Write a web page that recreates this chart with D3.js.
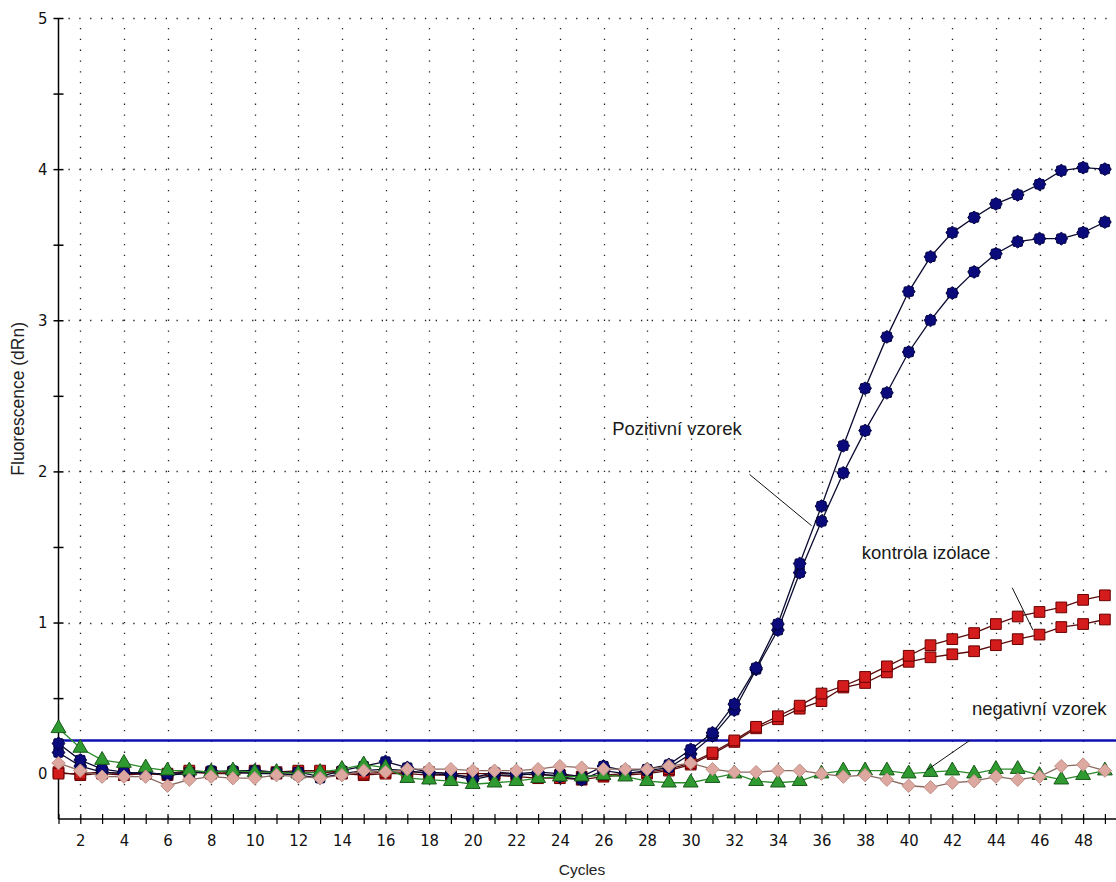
<!DOCTYPE html>
<html>
<head>
<meta charset="utf-8">
<script src="https://cdn.jsdelivr.net/npm/d3@7"></script>
<style>
  html, body { margin: 0; padding: 0; background: #fff; }
  svg { display: block; }
  .tick text { font-family: "Liberation Sans Narrow", "DejaVu Sans Condensed", Arial, sans-serif; font-size: 16.5px; fill: #111; }
</style>
</head>
<body>
<svg id="chart" width="1116" height="882"></svg>
<script>
// Amplification plot: fluorescence (dRn) per PCR cycle
const cycles = d3.range(1, 50);

const positiveA = [0.20,0.09,0.03,0.01,0.00,0.00,0.01,0.01,0.02,0.02,0.01,0.01,-0.02,0.02,0.05,0.08,0.04,0.01,0.00,-0.03,0.01,0.00,0.01,0.00,-0.02,0.05,0.02,0.03,0.06,0.16,0.27,0.46,0.70,0.99,1.39,1.77,2.17,2.55,2.89,3.19,3.42,3.58,3.68,3.77,3.83,3.90,3.99,4.01,4.00];
const positiveB = [0.14,0.05,0.01,0.00,0.01,-0.01,0.00,0.02,0.01,0.00,0.00,-0.01,-0.03,0.00,0.02,0.03,0.02,0.00,-0.01,-0.04,-0.01,-0.01,0.00,-0.02,-0.04,0.02,0.00,0.02,0.04,0.13,0.25,0.42,0.69,0.95,1.33,1.67,1.99,2.27,2.52,2.79,3.00,3.18,3.32,3.44,3.52,3.54,3.54,3.58,3.65];
const controlA = [0.00,0.00,0.01,0.00,0.00,0.00,0.02,0.01,0.01,0.02,0.01,0.02,0.02,0.01,0.00,0.01,0.01,0.01,0.00,0.00,0.00,0.00,-0.01,-0.01,-0.02,-0.01,0.00,0.01,0.03,0.07,0.14,0.22,0.31,0.38,0.45,0.53,0.58,0.64,0.71,0.78,0.85,0.89,0.93,0.99,1.04,1.07,1.10,1.15,1.18];
const controlB = [0.01,-0.01,0.00,-0.01,0.00,-0.01,0.01,0.00,0.00,0.01,0.00,0.01,0.01,0.00,-0.01,0.00,0.00,-0.01,-0.01,-0.02,-0.01,-0.02,-0.03,-0.03,-0.04,-0.02,-0.01,0.00,0.02,0.06,0.13,0.21,0.30,0.36,0.43,0.48,0.57,0.60,0.67,0.74,0.77,0.79,0.81,0.85,0.89,0.92,0.97,0.99,1.02];
const negativeGreen = [0.30,0.17,0.09,0.07,0.04,0.02,0.02,0.01,0.02,0.01,0.01,0.00,0.01,0.03,0.06,0.04,-0.03,-0.04,-0.05,-0.07,-0.06,-0.05,-0.03,-0.02,-0.02,-0.01,-0.02,-0.05,-0.06,-0.06,-0.03,0.00,-0.05,-0.06,-0.05,0.00,0.02,0.02,0.02,0.00,0.01,0.02,0.00,0.03,0.03,-0.01,-0.04,-0.01,0.02];
const negativePink = [0.07,0.02,-0.02,-0.02,-0.02,-0.08,-0.04,-0.02,-0.03,-0.03,-0.01,-0.02,-0.03,-0.01,0.02,0.01,0.03,0.03,0.03,0.02,0.02,0.02,0.03,0.05,0.04,0.03,0.03,0.03,0.05,0.07,0.03,0.01,0.01,0.02,0.02,0.00,-0.02,-0.01,-0.04,-0.08,-0.09,-0.06,-0.05,-0.02,-0.04,-0.02,0.05,0.06,0.02];

const threshold = 0.22;
const yTicks = [0, 1, 2, 3, 4, 5];
const yMinorTicks = [0.5, 1.5, 2.5, 3.5, 4.5];
const xLabelTicks = d3.range(2, 50, 2);

// annotation texts with leader lines, in data units (cycle, dRn)
const labels = [
  { text: "Pozitivní vzorek", at: [26.4, 2.27], from: [32.7, 1.98], to: [35.55, 1.64] },
  { text: "kontrola izolace", at: [37.85, 1.45], from: [44.75, 1.23], to: [45.7, 0.95] },
  { text: "negativní vzorek", at: [42.9, 0.42], from: [42.8, 0.22], to: [40.85, 0.025] }
];

const svg = d3.select("#chart");
const x = d3.scaleLinear().domain([1, 50]).range([58.5, 58.5 + 49 * 21.8]);
const y = d3.scaleLinear().domain([-0.3, 5]).range([819, 18]);
const plotRight = 1116;

// dotted grid
const grid = svg.append("g").attr("stroke", "#222").attr("stroke-width", 1.3)
  .attr("stroke-dasharray", "1.3,9.5").attr("stroke-linecap", "butt");
grid.selectAll("line.v").data(xLabelTicks).join("line")
  .attr("x1", d => Math.round(x(d)) + 0.5).attr("x2", d => Math.round(x(d)) + 0.5)
  .attr("y1", y(5) + 10).attr("y2", y(-0.3));
grid.selectAll("line.h").data(yTicks.filter(d => d > 0)).join("line")
  .attr("y1", d => Math.round(y(d)) + 0.5).attr("y2", d => Math.round(y(d)) + 0.5)
  .attr("x1", x(1) + 10).attr("x2", plotRight);

// axes
const yAxis = svg.append("g").attr("transform", `translate(${x(1)},0)`)
  .call(d3.axisLeft(y).tickValues(yTicks).tickFormat(d3.format("d")).tickSize(5).tickPadding(6));
yAxis.select(".domain").attr("d", `M0,${y(5)}V${y(-0.3)}`).attr("stroke", "#000").attr("stroke-width", 1.5);
yAxis.selectAll(".tick line").attr("x1", -5).attr("x2", 5).attr("stroke-width", 1.5);

const yMinor = svg.append("g").attr("transform", `translate(${x(1)},0)`)
  .call(d3.axisLeft(y).tickValues(yMinorTicks).tickFormat("").tickSize(5));
yMinor.select(".domain").remove();
yMinor.selectAll(".tick line").attr("x1", -5).attr("x2", 5).attr("stroke-width", 1.5);

const xAxis = svg.append("g").attr("transform", `translate(0,${y(-0.3)})`)
  .call(d3.axisBottom(x).tickValues(cycles).tickFormat(d => d % 2 === 0 ? d : "").tickSize(5).tickPadding(10));
xAxis.select(".domain").attr("d", `M${x(1)},0H${plotRight}`).attr("stroke", "#000").attr("stroke-width", 1.5);
xAxis.selectAll(".tick line").attr("y1", -5).attr("y2", 5).attr("stroke-width", 1.2);

// axis titles
svg.append("text").attr("transform", `translate(19,${y(2.48)}) rotate(-90)`)
  .attr("text-anchor", "middle").attr("dominant-baseline", "middle")
  .style("font-family", "Liberation Sans, Arial, sans-serif").style("font-size", "17.5px").attr("fill", "#222")
  .text("Fluorescence (dRn)");
svg.append("text").attr("x", 582).attr("y", 875).attr("text-anchor", "middle")
  .style("font-family", "Liberation Sans Narrow, Liberation Sans, Arial, sans-serif").style("font-size", "15.5px").attr("fill", "#222")
  .text("Cycles");

// threshold
svg.append("line").attr("x1", x(1)).attr("x2", plotRight)
  .attr("y1", y(threshold)).attr("y2", y(threshold))
  .attr("stroke", "#1010b0").attr("stroke-width", 2.5);

const line = d3.line().x((d, i) => x(cycles[i])).y(d => y(d));

// bumpy round marker used by the positive samples
const gear = { draw(ctx, size) {
  const r = Math.sqrt(size / Math.PI), n = 16;
  for (let k = 0; k < n; k++) {
    const a = (k / n) * 2 * Math.PI, rr = k % 2 ? r * 0.84 : r;
    const px = rr * Math.cos(a), py = rr * Math.sin(a);
    if (k === 0) ctx.moveTo(px, py); else ctx.lineTo(px, py);
  }
  ctx.closePath();
} };
const diamond = { draw(ctx, size) { const r = Math.sqrt(size) / 1.6; ctx.moveTo(0, -r); ctx.lineTo(r, 0); ctx.lineTo(0, r); ctx.lineTo(-r, 0); ctx.closePath(); } };

function drawSeries(values, lineColor, symbol, size, fill, stroke) {
  const g = svg.append("g");
  g.append("path").datum(values).attr("d", line)
    .attr("fill", "none").attr("stroke", lineColor).attr("stroke-width", 1.3);
  g.selectAll("path.m").data(values).join("path").attr("class", "m")
    .attr("transform", (d, i) => `translate(${x(cycles[i])},${y(d)})`)
    .attr("d", d3.symbol(symbol, size))
    .attr("fill", fill).attr("stroke", stroke).attr("stroke-width", 1);
}

drawSeries(controlB, "#5a0a0a", d3.symbolSquare, 115, "#d41c1c", "#6a0000");
drawSeries(controlA, "#5a0a0a", d3.symbolSquare, 115, "#d41c1c", "#6a0000");
drawSeries(positiveB, "#0a0a30", gear, 125, "#0a0a7a", "#000040");
drawSeries(positiveA, "#0a0a30", gear, 125, "#0a0a7a", "#000040");
drawSeries(negativeGreen, "#2a8a2a", d3.symbolTriangle, 95, "#2e9a30", "#1a5a1a");
drawSeries(negativePink, "#8a6a60", diamond, 115, "#dca8a0", "#c09088");

// annotations
const ann = svg.append("g");
ann.selectAll("line").data(labels).join("line")
  .attr("x1", d => x(d.from[0])).attr("y1", d => y(d.from[1]))
  .attr("x2", d => x(d.to[0])).attr("y2", d => y(d.to[1]))
  .attr("stroke", "#111").attr("stroke-width", 1);
ann.selectAll("text").data(labels).join("text")
  .attr("x", d => x(d.at[0])).attr("y", d => y(d.at[1]))
  .attr("dominant-baseline", "middle")
  .style("font-family", "Liberation Sans, Arial, sans-serif").style("font-size", "18.5px").attr("fill", "#1a1a1a")
  .text(d => d.text);
</script>
</body>
</html>
